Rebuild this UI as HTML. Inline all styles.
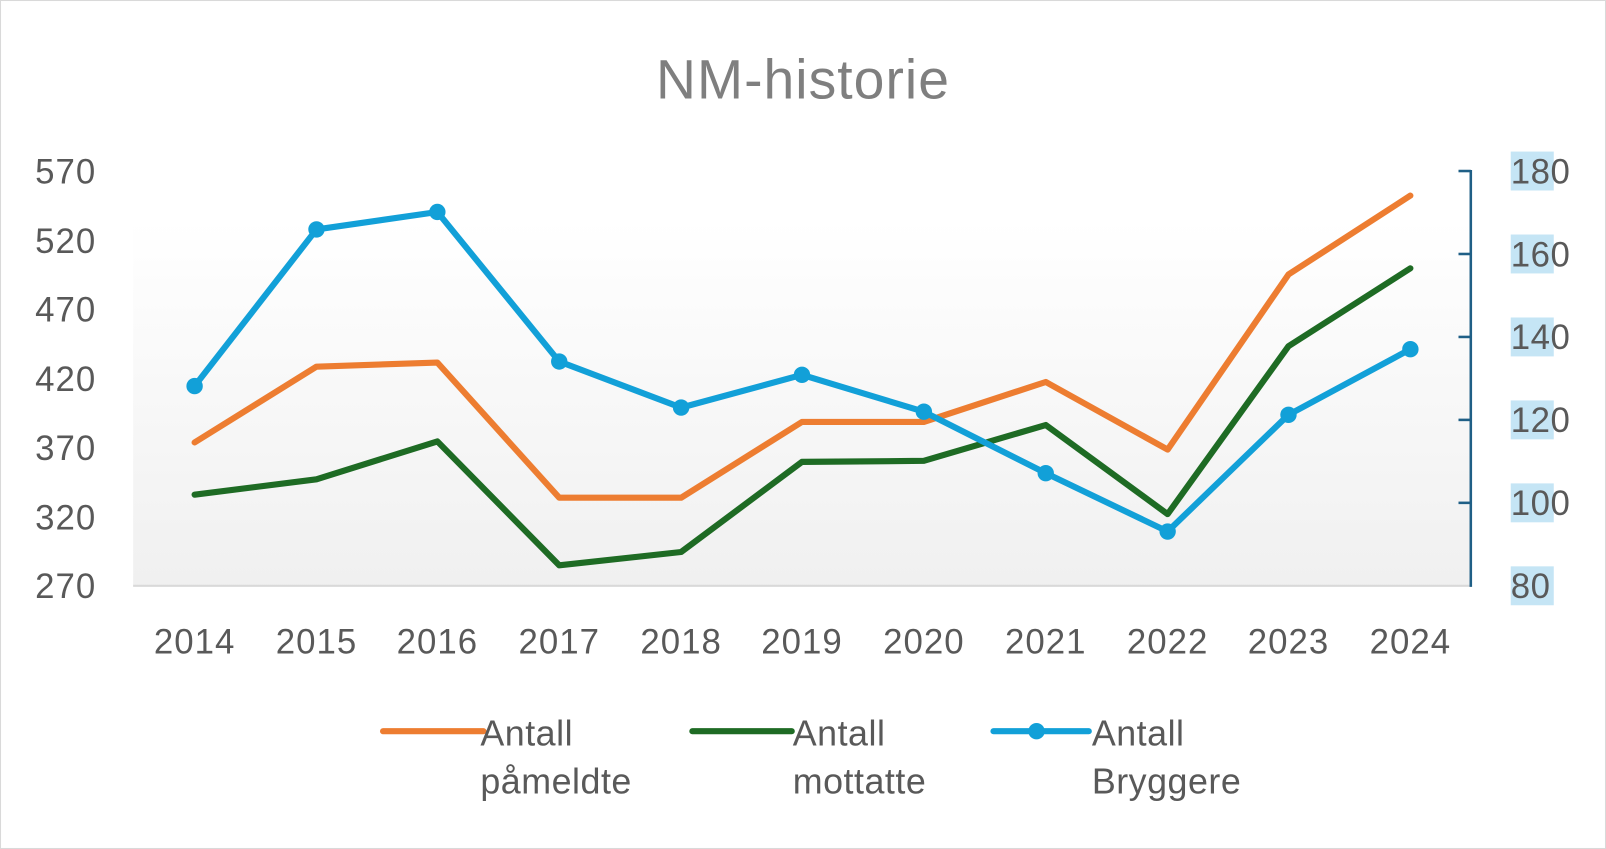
<!DOCTYPE html>
<html><head><meta charset="utf-8"><style>html,body{margin:0;padding:0;background:#fff}svg{display:block}</style></head>
<body>
<svg width="1606" height="849" viewBox="0 0 1568 829" preserveAspectRatio="none" xmlns="http://www.w3.org/2000/svg" font-family="'Liberation Sans', sans-serif">
<defs><linearGradient id="g" x1="0" y1="0" x2="0" y2="1"><stop offset="0" stop-color="#fff"/><stop offset="1" stop-color="#f0f0f0"/></linearGradient></defs>
<rect x="0.5" y="0.5" width="1567" height="828" fill="#fff" stroke="#d9d9d9"/>
<rect x="130" y="215" width="1306" height="357" fill="url(#g)"/>
<text x="784" y="96" font-size="54" fill="#7f7f7f" text-anchor="middle" letter-spacing="1">NM-historie</text>
<g font-size="34" fill="#595959" text-anchor="end" letter-spacing="1">
<text x="94" y="179">570</text><text x="94" y="247">520</text><text x="94" y="314">470</text><text x="94" y="382">420</text><text x="94" y="449">370</text><text x="94" y="517">320</text><text x="94" y="584">270</text>
</g>
<g fill="#c5e5f5"><rect x="1475" y="148" width="42" height="38"/><rect x="1475" y="229" width="42" height="38"/><rect x="1475" y="310" width="42" height="38"/><rect x="1475" y="391" width="42" height="38"/><rect x="1475" y="472" width="42" height="38"/><rect x="1475" y="553" width="42" height="38"/></g>
<g font-size="34" fill="#595959" letter-spacing="0.5">
<text x="1475" y="179">180</text><text x="1475" y="260">160</text><text x="1475" y="341">140</text><text x="1475" y="422">120</text><text x="1475" y="503">100</text><text x="1475" y="584">80</text>
</g>
<g font-size="34" fill="#595959" text-anchor="middle" letter-spacing="1">
<text x="190" y="638">2014</text><text x="309" y="638">2015</text><text x="427" y="638">2016</text><text x="546" y="638">2017</text><text x="665" y="638">2018</text><text x="783" y="638">2019</text><text x="902" y="638">2020</text><text x="1021" y="638">2021</text><text x="1140" y="638">2022</text><text x="1258" y="638">2023</text><text x="1377" y="638">2024</text>
</g>
<line x1="130" y1="572" x2="1436" y2="572" stroke="#d9d9d9" stroke-width="2"/>
<g stroke="#1f5f86" stroke-width="2.5"><line x1="1436" y1="166" x2="1436" y2="573"/>
<line x1="1424" y1="167" x2="1436" y2="167"/><line x1="1424" y1="248" x2="1436" y2="248"/><line x1="1424" y1="329" x2="1436" y2="329"/><line x1="1424" y1="410" x2="1436" y2="410"/><line x1="1424" y1="491" x2="1436" y2="491"/></g>
<g fill="none" stroke-width="6" stroke-linecap="round" stroke-linejoin="round">
<polyline stroke="#ED7D31" points="190,432 309,358 427,354 546,486 665,486 783,412 902,412 1021,373 1140,439 1258,268 1377,191"/>
<polyline stroke="#1E6B24" points="190,483 309,468 427,431 546,552 665,539 783,451 902,450 1021,415 1140,502 1258,338 1377,262"/>
<polyline stroke="#12A0D8" points="190,377 309,224 427,207 546,353 665,398 783,366 902,402 1021,462 1140,519 1258,405 1377,341"/>
</g>
<g fill="#12A0D8"><circle cx="190" cy="377" r="8"/><circle cx="309" cy="224" r="8"/><circle cx="427" cy="207" r="8"/><circle cx="546" cy="353" r="8"/><circle cx="665" cy="398" r="8"/><circle cx="783" cy="366" r="8"/><circle cx="902" cy="402" r="8"/><circle cx="1021" cy="462" r="8"/><circle cx="1140" cy="519" r="8"/><circle cx="1258" cy="405" r="8"/><circle cx="1377" cy="341" r="8"/></g>
<g stroke-width="6" stroke-linecap="round"><line x1="374" y1="714" x2="472" y2="714" stroke="#ED7D31"/><line x1="676" y1="714" x2="773" y2="714" stroke="#1E6B24"/><line x1="970" y1="714" x2="1063" y2="714" stroke="#12A0D8"/></g>
<circle cx="1012" cy="714" r="8" fill="#12A0D8"/>
<g font-size="35" fill="#595959" letter-spacing="0.5">
<text x="469" y="728">Antall</text><text x="469" y="775">påmeldte</text>
<text x="774" y="728">Antall</text><text x="774" y="775">mottatte</text>
<text x="1066" y="728">Antall</text><text x="1066" y="775">Bryggere</text>
</g>
</svg>
</body></html>
